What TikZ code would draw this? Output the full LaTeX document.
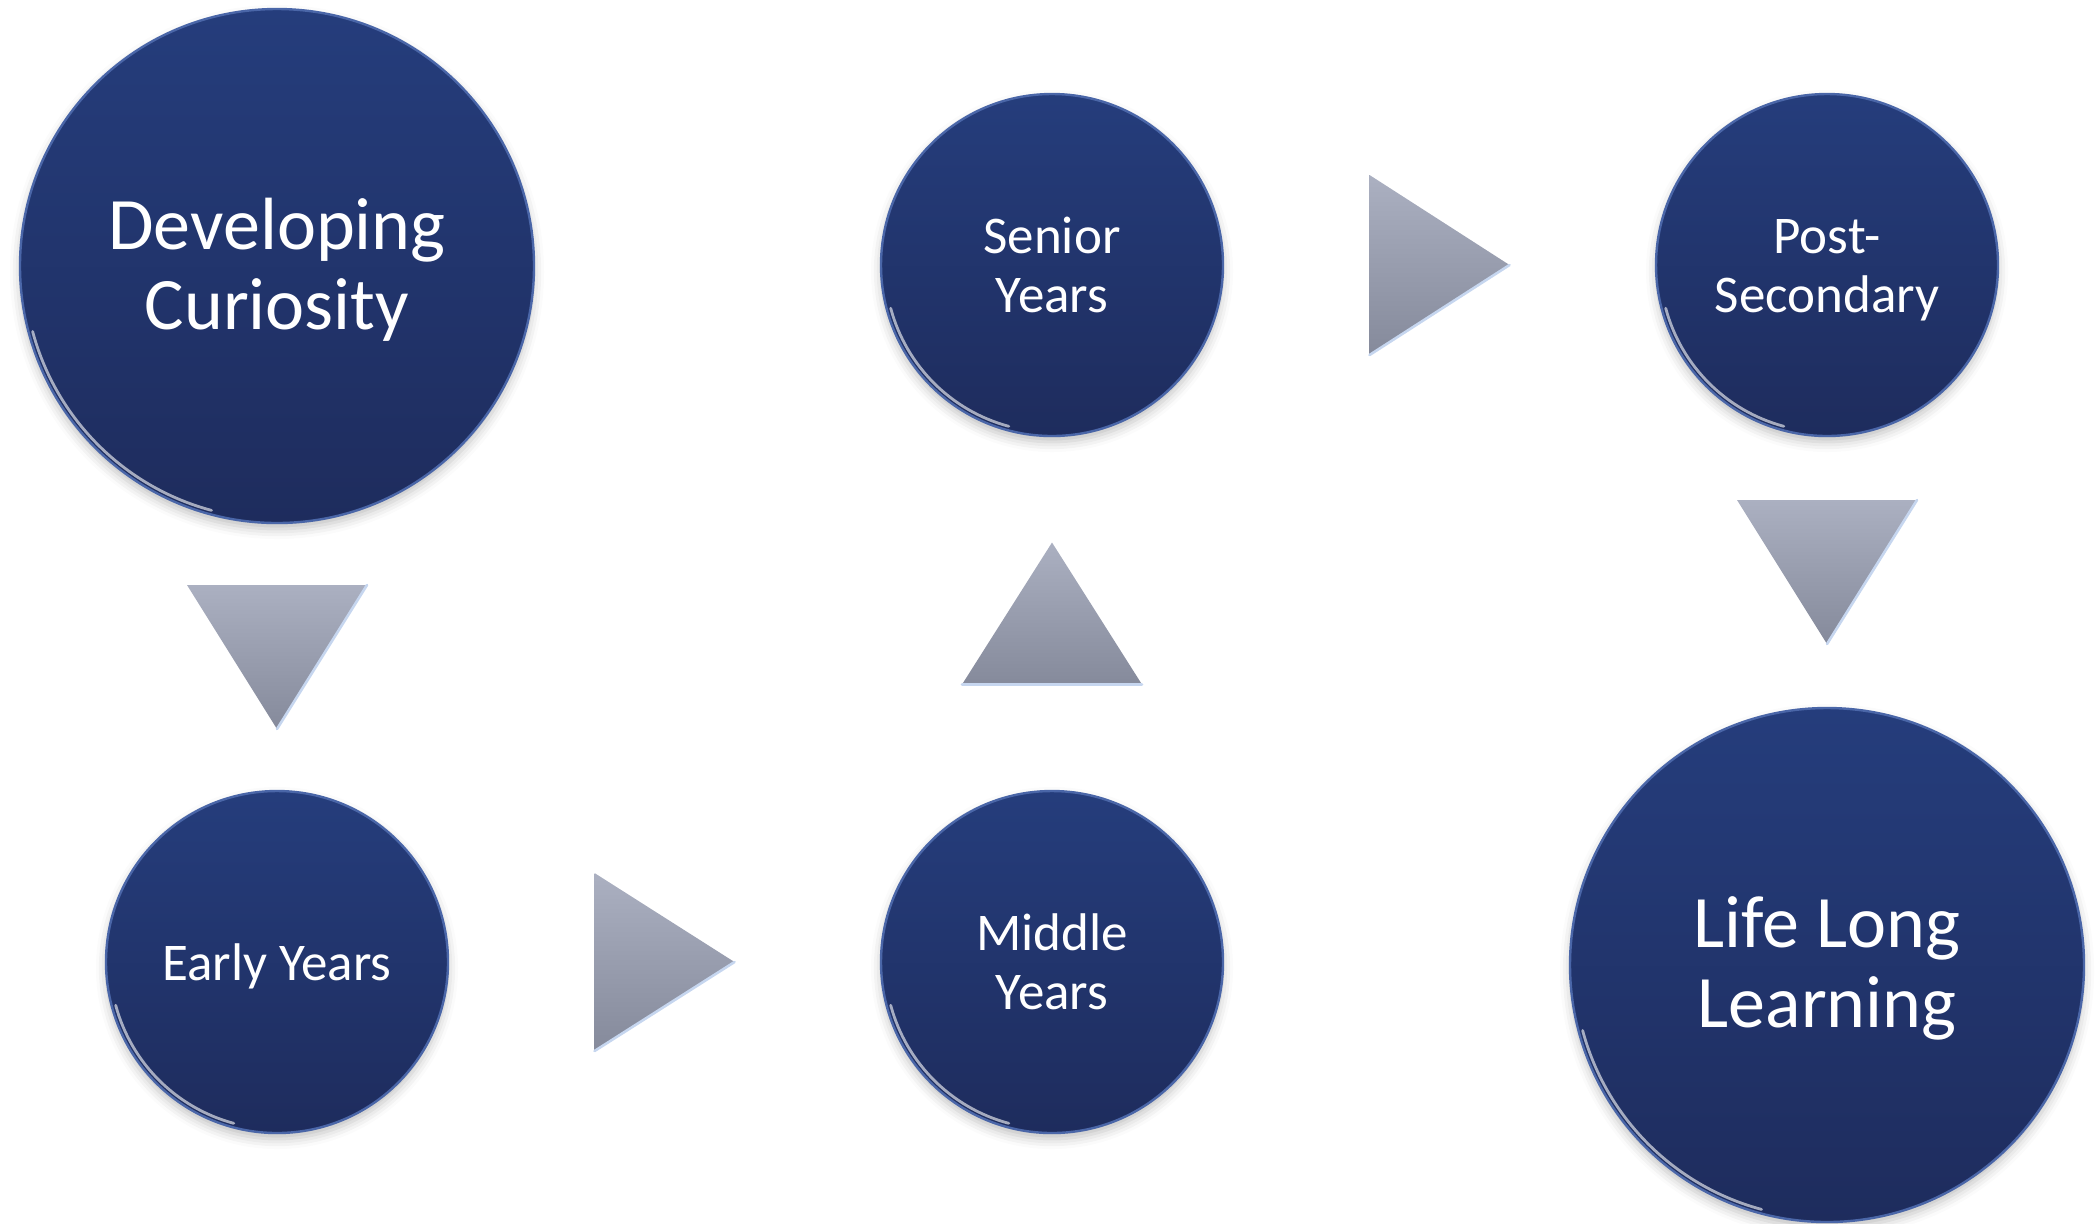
\documentclass[tikz,border=0pt]{standalone}
\usepackage{fontspec}
\setmainfont{Carlito}
\usetikzlibrary{calc,shadows.blur}

\definecolor{discTop}{HTML}{253D7C}
\definecolor{discBot}{HTML}{1E2C5D}
\definecolor{discRim}{HTML}{4A66A8}
\definecolor{triTop}{HTML}{ABB0C1}
\definecolor{triBot}{HTML}{858A9B}
\definecolor{triEdge}{HTML}{C6D6EF}

\begin{document}
\begin{tikzpicture}[x=0.5pt,y=-0.5pt,
  stage/.style={circle, inner sep=0pt,
    top color=discTop, bottom color=discBot, draw=discRim, line width=1.2pt,
    blur shadow={shadow xshift=0pt, shadow yshift=-3pt, shadow blur radius=5pt, shadow opacity=25}},
  bigstage/.style={stage, minimum size=257pt},
  smallstage/.style={stage, minimum size=171pt},
  caption/.style={inner sep=0pt, text=white, align=center},
  bigcaption/.style={caption, font=\fontsize{37}{40}\selectfont},
  smallcaption/.style={caption, font=\fontsize{26.5}{29.5}\selectfont},
  glint/.style={white, opacity=0.6, line width=1.4pt, line cap=round},
  tri/.style={top color=triTop, bottom color=triBot},
  triglint/.style={triEdge, line width=1.3pt, line cap=round}]

\useasboundingbox (0,0) rectangle (2096,1223);

% stages
\node[bigstage]   (dev)    at (277,266)  {};
\node[smallstage] (early)  at (277,962)  {};
\node[smallstage] (middle) at (1052,962) {};
\node[smallstage] (senior) at (1052,265) {};
\node[smallstage] (post)   at (1827,265) {};
\node[bigstage]   (life)   at (1827,965) {};

% captions, set a little below each centre
\node[bigcaption]   (dev-t)    at ([yshift=-3.5pt]dev.center)    {Developing\strut\\Curiosity\strut};
\node[smallcaption] (early-t)  at ([yshift=-2pt]early.center)    {Early Years};
\node[smallcaption] (middle-t) at ([yshift=-3pt]middle.center)   {Middle\strut\\Years\strut};
\node[smallcaption] (senior-t) at ([yshift=-3pt]senior.center)   {Senior\strut\\Years\strut};
\node[smallcaption] (post-t)   at ([yshift=-3pt]post.center)     {Post-\strut\\Secondary\strut};
\node[bigcaption]   (life-t)   at ([yshift=-3pt]life.center)     {Life Long\strut\\Learning\strut};

% bevel glints on the lower-left rims
\foreach \n/\r in {dev/126.5, life/126.5, early/83.5, middle/83.5, senior/83.5, post/83.5}{
  \draw[glint] (\n.center) ++(195:\r pt) arc[start angle=195, end angle=255, radius=\r pt];
}

% direction markers, centred between the facing rims
\coordinate (m1) at ($(dev.south)!0.5!(early.north)$);
\coordinate (m2) at ($(early.east)!0.5!(middle.west)$);
\coordinate (m3) at ($(middle.north)!0.5!(senior.south)$);
\coordinate (m4) at ($(senior.east)!0.5!(post.west)$);
\coordinate (m5) at ($(post.south)!0.5!(life.north)$);

% down
\shade[tri] ($(m1)+(-90,-72)$) -- ($(m1)+(90,-72)$) -- ($(m1)+(0,72)$) -- cycle;
\draw[triglint] ($(m1)+(90,-72)$) -- ($(m1)+(0,72)$);
% right
\shade[tri] ($(m2)+(-70,-89)$) -- ($(m2)+(70,0)$) -- ($(m2)+(-70,89)$) -- cycle;
\draw[triglint] ($(m2)+(70,0)$) -- ($(m2)+(-70,89)$);
% up
\shade[tri] ($(m3)+(-90,71)$) -- ($(m3)+(0,-71)$) -- ($(m3)+(90,71)$) -- cycle;
\draw[triglint] ($(m3)+(-90,71)$) -- ($(m3)+(90,71)$);
% right
\shade[tri] ($(m4)+(-70,-90)$) -- ($(m4)+(70,0)$) -- ($(m4)+(-70,90)$) -- cycle;
\draw[triglint] ($(m4)+(70,0)$) -- ($(m4)+(-70,90)$);
% down
\shade[tri] ($(m5)+(-90,-72)$) -- ($(m5)+(90,-72)$) -- ($(m5)+(0,72)$) -- cycle;
\draw[triglint] ($(m5)+(90,-72)$) -- ($(m5)+(0,72)$);
\end{tikzpicture}
\end{document}
